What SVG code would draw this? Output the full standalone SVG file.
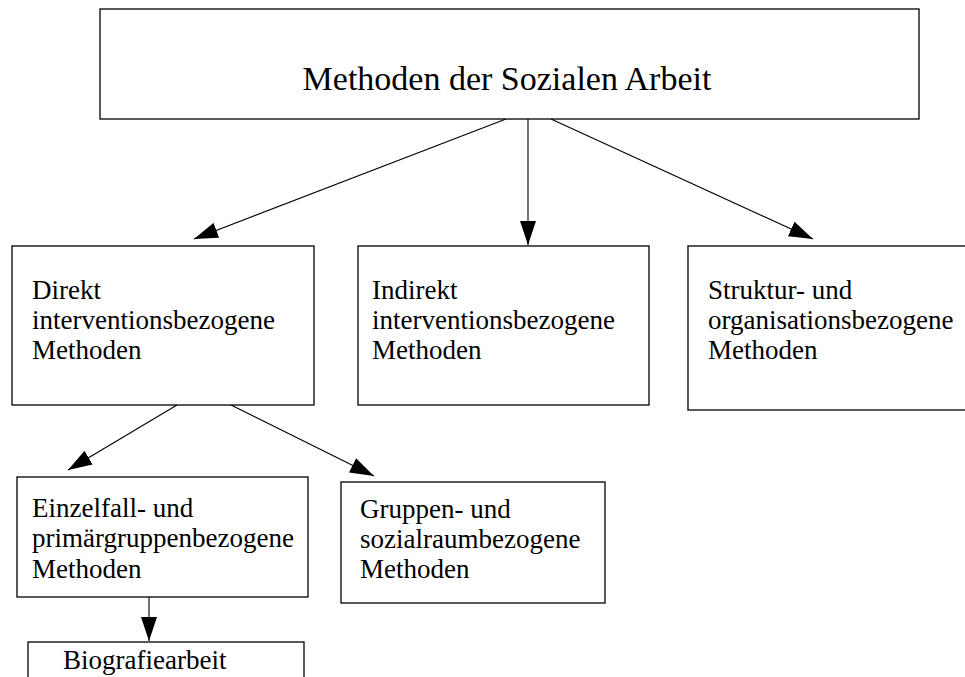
<svg xmlns="http://www.w3.org/2000/svg" width="965" height="677" viewBox="0 0 965 677">
<style>
.box{fill:#fff;stroke:#000;stroke-width:1.3}
.t{font-family:"Liberation Serif","Times New Roman",serif;font-size:27px;fill:#000}
.title{font-family:"Liberation Serif","Times New Roman",serif;font-size:34px;fill:#000}
.c{stroke:#000;stroke-width:1.1;fill:none;marker-end:url(#ah)}
</style>
<defs>
<marker id="ah" markerUnits="userSpaceOnUse" markerWidth="24" markerHeight="16" refX="24" refY="8" orient="auto" viewBox="0 0 24 16">
<path d="M0,0 L24,8 L0,16 z" fill="#000"/>
</marker>
</defs>
<rect width="965" height="677" fill="#fff"/>
<g id="connectors">
<line class="c" x1="528" y1="119" x2="528" y2="245"/>
<line class="c" x1="506" y1="119" x2="194" y2="239"/>
<line class="c" x1="551" y1="119" x2="813" y2="239"/>
<line class="c" x1="177" y1="405" x2="68" y2="470"/>
<line class="c" x1="231" y1="405" x2="374" y2="476"/>
<line class="c" x1="149" y1="597" x2="149" y2="641"/>
</g>
<g id="root">
<rect class="box" x="100" y="9" width="819" height="110"/>
<text class="title" x="507" y="90" text-anchor="middle">Methoden der Sozialen Arbeit</text>
</g>
<g id="direkt">
<rect class="box" x="12" y="246" width="302" height="159"/>
<text class="t" x="32" y="299">Direkt</text>
<text class="t" x="32" y="329">interventionsbezogene</text>
<text class="t" x="32" y="359">Methoden</text>
</g>
<g id="indirekt">
<rect class="box" x="358" y="246" width="291" height="159"/>
<text class="t" x="372" y="299">Indirekt</text>
<text class="t" x="372" y="329">interventionsbezogene</text>
<text class="t" x="372" y="359">Methoden</text>
</g>
<g id="struktur">
<rect class="box" x="688" y="246" width="290" height="164"/>
<text class="t" x="708" y="299">Struktur- und</text>
<text class="t" x="708" y="329">organisationsbezogene</text>
<text class="t" x="708" y="359">Methoden</text>
</g>
<g id="einzelfall">
<rect class="box" x="17" y="477" width="291" height="120"/>
<text class="t" x="32" y="517">Einzelfall- und</text>
<text class="t" x="32" y="547">primärgruppenbezogene</text>
<text class="t" x="32" y="578">Methoden</text>
</g>
<g id="gruppen">
<rect class="box" x="341" y="482" width="264" height="121"/>
<text class="t" x="360" y="518">Gruppen- und</text>
<text class="t" x="360" y="548">sozialraumbezogene</text>
<text class="t" x="360" y="578">Methoden</text>
</g>
<g id="biografie">
<rect class="box" x="28" y="642" width="276" height="60"/>
<text class="t" x="63" y="669">Biografiearbeit</text>
</g>
</svg>
